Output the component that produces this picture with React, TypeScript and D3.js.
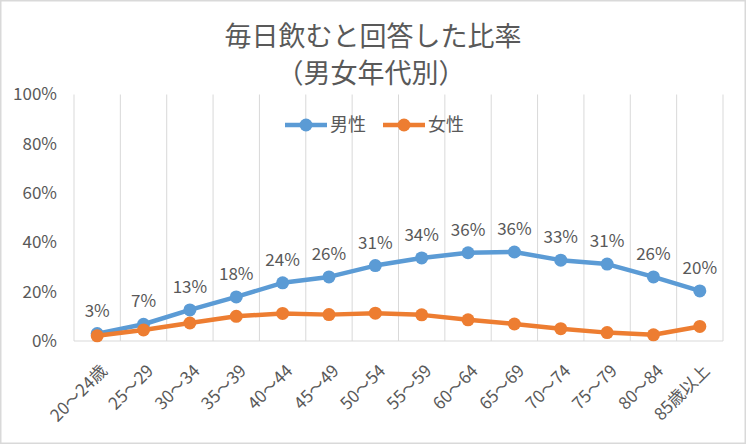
import React, { useRef, useEffect } from 'react';
import * as d3 from 'd3';

const categories = [
  '20～24歳', '25～29', '30～34', '35～39', '40～44', '45～49', '50～54',
  '55～59', '60～64', '65～69', '70～74', '75～79', '80～84', '85歳以上',
];
const maleValues = [3.0, 6.8, 12.6, 17.9, 23.6, 26.0, 30.6, 33.7, 35.8, 36.1, 32.8, 31.2, 26.0, 20.3];
const femaleValues = [2.1, 4.5, 7.3, 10.0, 11.2, 10.7, 11.3, 10.6, 8.6, 6.9, 5.0, 3.4, 2.5, 5.9];
const yTicks = [0, 20, 40, 60, 80, 100];

const series = [
  { name: '男性', values: maleValues, color: '#5B9BD5', labels: true },
  { name: '女性', values: femaleValues, color: '#ED7D31', labels: false },
];

const W = 746;
const H = 444;
const FONT = '"Noto Sans CJK JP", "Noto Sans", sans-serif';
const TEXT = '#595959';

const App: React.FC = () => {
  const svgRef = useRef<SVGSVGElement | null>(null);

  useEffect(() => {
    if (!svgRef.current) return;
    const svg = d3.select(svgRef.current);
    svg.selectAll('*').remove();

    const left = 74;
    const right = 723;
    const top = 94.5;
    const bottom = 341;

    const x = d3.scaleBand().domain(categories).range([left, right]);
    const y = d3.scaleLinear().domain([0, 100]).range([bottom, top]);
    const cx = (c: string) => (x(c) || 0) + x.bandwidth() / 2;

    // outer frame
    svg.append('rect')
      .attr('x', 0.75).attr('y', 0.75)
      .attr('width', W - 1.5).attr('height', H - 1.5)
      .attr('fill', '#fff').attr('stroke', '#D9D9D9').attr('stroke-width', 1.5);

    // title
    const title = svg.append('g').attr('font-family', FONT).attr('fill', TEXT)
      .attr('font-size', 27).attr('text-anchor', 'middle');
    title.append('text').attr('x', 373).attr('y', 46).text('毎日飲むと回答した比率');
    title.append('text').attr('x', 371).attr('y', 83).text('（男女年代別）');

    // vertical gridlines at category boundaries
    const bounds = categories.map(c => x(c) || 0).concat([right]);
    svg.append('g').selectAll('line').data(bounds).enter().append('line')
      .attr('x1', d => d).attr('x2', d => d)
      .attr('y1', top).attr('y2', bottom)
      .attr('stroke', '#D9D9D9').attr('stroke-width', 1);

    svg.append('line')
      .attr('x1', left).attr('x2', right).attr('y1', bottom).attr('y2', bottom)
      .attr('stroke', '#D9D9D9').attr('stroke-width', 1);

    // y tick labels
    svg.append('g').selectAll('text').data(yTicks).enter().append('text')
      .attr('x', 57).attr('y', d => y(d)).attr('dy', '0.35em')
      .attr('text-anchor', 'end').attr('font-family', FONT)
      .attr('font-size', 17).attr('fill', TEXT)
      .text(d => `${d}%`);

    // x tick labels, rotated
    svg.append('g').selectAll('text').data(categories).enter().append('text')
      .attr('transform', d => `translate(${cx(d) + 2},${bottom + 22}) rotate(-45)`)
      .attr('text-anchor', 'end').attr('dy', '0.75em')
      .attr('font-family', FONT).attr('font-size', 17).attr('fill', TEXT)
      .text(d => d);

    const line = d3.line<number>()
      .x((_, i) => cx(categories[i]))
      .y(d => y(d));

    series.forEach(s => {
      const g = svg.append('g');
      g.append('path').datum(s.values)
        .attr('d', line).attr('fill', 'none')
        .attr('stroke', s.color).attr('stroke-width', 4.5)
        .attr('stroke-linejoin', 'round');
      g.selectAll('circle').data(s.values).enter().append('circle')
        .attr('cx', (_, i) => cx(categories[i])).attr('cy', d => y(d))
        .attr('r', 6.5).attr('fill', s.color);
      if (s.labels) {
        g.selectAll('text').data(s.values).enter().append('text')
          .attr('x', (_, i) => cx(categories[i])).attr('y', d => y(d) - 17)
          .attr('text-anchor', 'middle').attr('font-family', FONT)
          .attr('font-size', 17).attr('fill', TEXT)
          .text(d => `${Math.round(d)}%`);
      }
    });

    // legend
    const legendX = [285, 383];
    series.forEach((s, i) => {
      const lg = svg.append('g').attr('transform', `translate(${legendX[i]},125)`);
      lg.append('line').attr('x1', 0).attr('x2', 42).attr('y1', 0).attr('y2', 0)
        .attr('stroke', s.color).attr('stroke-width', 4.5);
      lg.append('circle').attr('cx', 21).attr('cy', 0).attr('r', 6.5).attr('fill', s.color);
      lg.append('text').attr('x', 45).attr('y', 0).attr('dy', '0.36em')
        .attr('font-family', FONT).attr('font-size', 18).attr('fill', TEXT)
        .text(s.name);
    });
  }, []);

  return (
    <svg ref={svgRef} width={W} height={H}
      style={{ position: 'absolute', left: 0, top: 0, display: 'block' }} />
  );
};

export default App;
